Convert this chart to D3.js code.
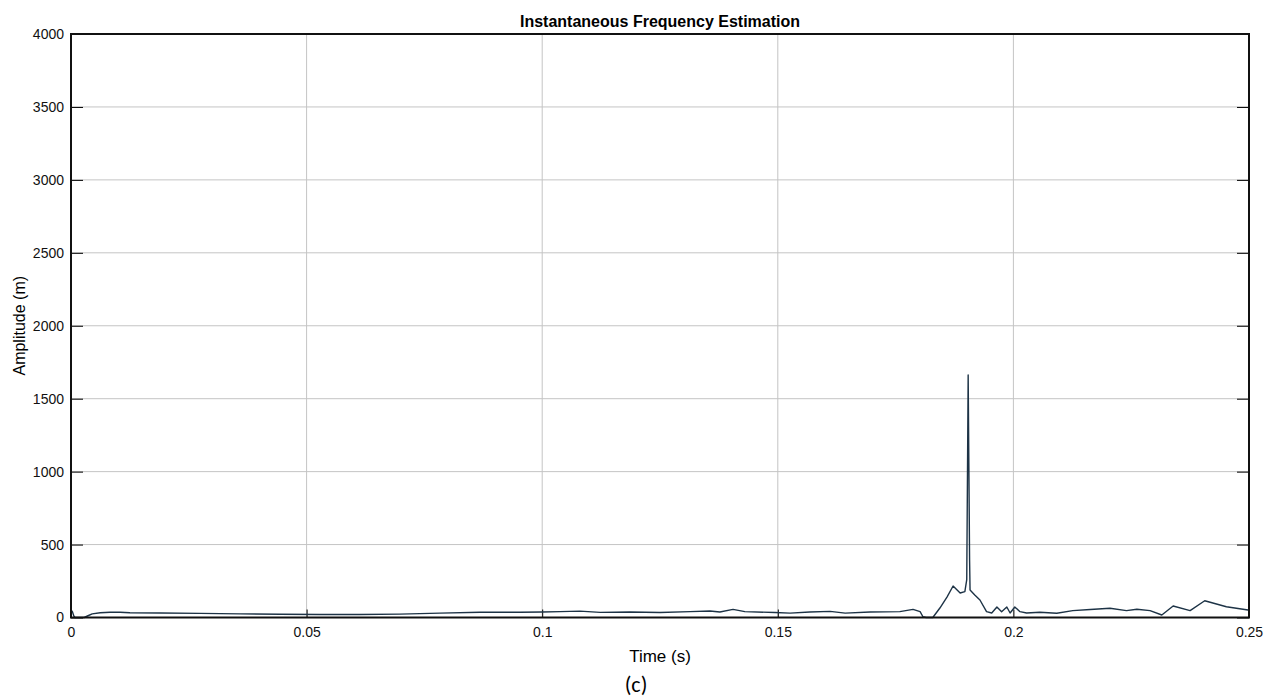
<!DOCTYPE html>
<html>
<head>
<meta charset="utf-8">
<script src="https://cdn.jsdelivr.net/npm/d3@7.9.0/dist/d3.min.js"></script>
<style>
  body { margin: 0; background: #fff; }
  text { font-family: "Liberation Sans", Arial, sans-serif; }
</style>
</head>
<body>
<div id="chart"></div>
<script>
// values
const timeS = [0, 0.0003, 0.0006, 0.00085, 0.0028, 0.0036, 0.0045, 0.0062, 0.0083, 0.0104, 0.0125,
  0.0189, 0.0274, 0.0359, 0.0444, 0.0528, 0.0613, 0.0698, 0.0783, 0.0868, 0.0953, 0.1, 0.1038,
  0.108, 0.1123, 0.1186, 0.125, 0.1314, 0.1356, 0.1377, 0.1405, 0.143, 0.1494, 0.1526, 0.1568,
  0.1611, 0.1643, 0.1696, 0.1759, 0.1787, 0.1802, 0.1808, 0.1815, 0.1829, 0.1844, 0.1859, 0.1872,
  0.188, 0.1887, 0.1897, 0.1901, 0.1904, 0.1907, 0.1908, 0.1918, 0.1929, 0.1943, 0.1954, 0.1965,
  0.1975, 0.1986, 0.1993, 0.2003, 0.2014, 0.2028, 0.2056, 0.2092, 0.2126, 0.2163, 0.2205, 0.224,
  0.2262, 0.229, 0.2315, 0.2339, 0.2375, 0.2406, 0.2452, 0.2498];
const amplitude = [52, 40, 10, 0, 0, 12, 25, 33, 36, 36, 33,
  31, 28, 25, 22, 21, 21, 23, 30, 36, 36, 38, 40,
  44, 35, 38, 34, 40, 45, 38, 56, 40, 34, 30, 38,
  42, 30, 38, 40, 56, 40, 5, 0, 0, 65, 140, 216,
  190, 168, 177, 260, 1662, 400, 188, 154, 120, 40, 31, 72,
  40, 72, 31, 72, 40, 31, 36, 29, 47, 55, 63, 47,
  57, 47, 17, 79, 47, 115, 74, 51];
const xTicks = [0, 0.05, 0.1, 0.15, 0.2, 0.25];
const yTicks = [0, 500, 1000, 1500, 2000, 2500, 3000, 3500, 4000];

const width = 1264, height = 697;
const plotL = 71, plotR = 1249, plotT = 34, plotB = 617.5;

const svg = d3.select("#chart").append("svg")
    .attr("width", width)
    .attr("height", height);

const x = d3.scaleLinear().domain([0, 0.25]).range([plotL, plotR]);
const y = d3.scaleLinear().domain([0, 4000]).range([plotB, plotT]);

// grid
svg.append("g").selectAll("line")
    .data(xTicks.slice(1, -1))
    .join("line")
    .attr("x1", d => x(d)).attr("x2", d => x(d))
    .attr("y1", plotT).attr("y2", plotB)
    .attr("stroke", "#c4c4c4").attr("stroke-width", 1);

svg.append("g").selectAll("line")
    .data(yTicks.slice(1, -1))
    .join("line")
    .attr("x1", plotL).attr("x2", plotR)
    .attr("y1", d => y(d)).attr("y2", d => y(d))
    .attr("stroke", "#c4c4c4").attr("stroke-width", 1);

// axes with inward ticks
const fmtX = d => d === 0 ? "0" : String(d);
svg.append("g")
    .attr("transform", `translate(0,${plotB})`)
    .call(d3.axisBottom(x).tickValues(xTicks).tickFormat(fmtX).tickSizeInner(-8).tickSizeOuter(0).tickPadding(10))
    .call(g => g.select(".domain").remove())
    .call(g => g.selectAll("text").attr("font-size", 14).attr("fill", "#111"));

svg.append("g")
    .attr("transform", `translate(${plotL},0)`)
    .call(d3.axisLeft(y).tickValues(yTicks).tickFormat(d3.format("d")).tickSizeInner(-12).tickSizeOuter(0).tickPadding(7))
    .call(g => g.select(".domain").remove())
    .call(g => g.selectAll("text").attr("font-size", 14).attr("fill", "#111"));

svg.append("g")
    .attr("transform", `translate(${plotR},0)`)
    .call(d3.axisRight(y).tickValues(yTicks).tickFormat("").tickSizeInner(-12).tickSizeOuter(0))
    .call(g => g.select(".domain").remove());

// data line
const pts = timeS.map((t, i) => [t, amplitude[i]]);
svg.append("path")
    .datum(pts)
    .attr("fill", "none")
    .attr("stroke", "#1d3346")
    .attr("stroke-width", 1.4)
    .attr("stroke-linejoin", "round")
    .attr("d", d3.line().x(d => x(d[0])).y(d => y(d[1])));

// frame
svg.append("rect")
    .attr("x", plotL).attr("y", plotT)
    .attr("width", plotR - plotL).attr("height", plotB - plotT)
    .attr("fill", "none").attr("stroke", "#111").attr("stroke-width", 2);

// labels
svg.append("text")
    .attr("x", 660).attr("y", 26.5)
    .attr("text-anchor", "middle")
    .attr("font-size", 16).attr("font-weight", "bold")
    .text("Instantaneous Frequency Estimation");

svg.append("text")
    .attr("x", 660).attr("y", 662)
    .attr("text-anchor", "middle")
    .attr("font-size", 17)
    .text("Time (s)");

svg.append("text")
    .attr("transform", `translate(25,${(plotT + plotB) / 2}) rotate(-90)`)
    .attr("text-anchor", "middle")
    .attr("font-size", 16)
    .text("Amplitude (m)");

svg.append("text")
    .attr("x", 636).attr("y", 692)
    .attr("text-anchor", "middle")
    .attr("font-size", 22)
    .style("font-family", "Carlito, 'Open Sans', sans-serif")
    .text("(c)");
</script>
</body>
</html>
